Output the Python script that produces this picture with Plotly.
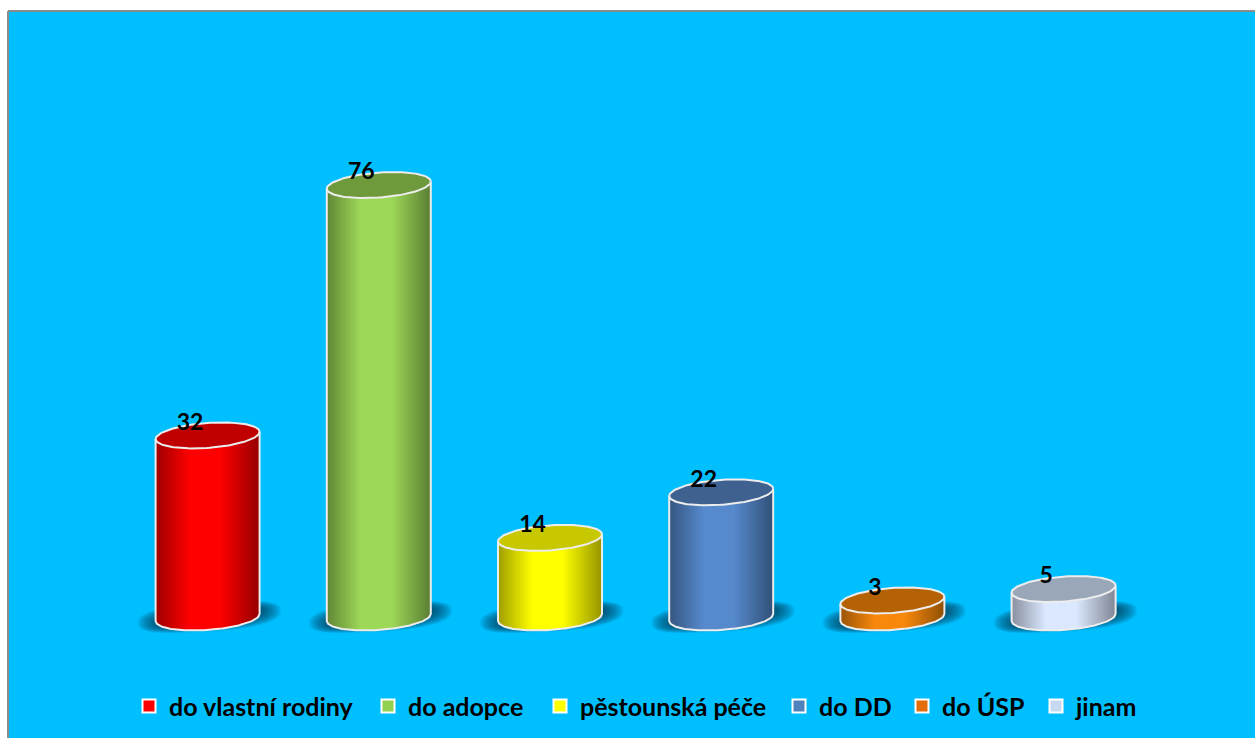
import numpy as np
import plotly.graph_objects as go

categories = ["do vlastní rodiny", "do adopce", "pěstounská péče", "do DD", "do ÚSP", "jinam"]
values = [32, 76, 14, 22, 3, 5]
side_colors = [(255, 0, 0), (157, 217, 88), (255, 255, 0), (86, 138, 205), (247, 136, 12), (219, 232, 255)]
top_colors = ["#C00000", "#6E9A3C", "#C8C800", "#3F6190", "#B56205", "#9AA7B8"]
legend_colors = ["#FF0000", "#92D050", "#FFFF00", "#4F81BD", "#E46C0A", "#C6D9F1"]
legend_left_px = [129, 368, 540, 779, 902, 1036]

W, H = 1255, 738
L, T = 8, 11
BG = "#00BFFF"
PX_PER_CAT = 171.2
PX_PER_VAL = 5.69
X0_PX, Y0_PX = 207.6, 617.5
HALF_W = 52 / PX_PER_CAT
RY = 12.5 / PX_PER_VAL
TILT = 3.6 / PX_PER_VAL


def shade(c, f):
    return "rgb(%d,%d,%d)" % tuple(int(round(v * f)) for v in c)


def grad(u):
    p = (u + 1) / 2
    if p < 0.33:
        return 0.62 + 0.38 * (p / 0.33)
    if p < 0.62:
        return 1.0
    return 1.0 - 0.42 * ((p - 0.62) / 0.38)


def ell(cx, cy, u):
    """front (lower) half of the tilted ellipse for u in -1..1"""
    return cx + HALF_W * u, cy - RY * np.sqrt(np.clip(1 - u * u, 0, 1)) + TILT * u


fig = go.Figure()
OUT = "#EDEDED"

# soft shadows
for i, v in enumerate(values):
    for s in np.linspace(1.0, 0.0, 14):
        t = np.linspace(0, 2 * np.pi, 80)
        rx = HALF_W * (0.95 + 0.43 * s)
        ry = RY * (0.55 + 0.62 * s)
        ct, st = np.cos(t), np.sin(t)
        sx = i + 0.01 + rx * np.sign(ct) * np.abs(ct) ** 0.75
        sy = 0.1 + ry * np.sign(st) * np.abs(st) ** 0.75 + 1.7 * TILT * ct
        fig.add_trace(go.Scatter(x=sx, y=sy, mode="lines", fill="toself",
                                 fillcolor="rgba(0,45,75,0.085)", line=dict(width=0),
                                 hoverinfo="skip", showlegend=False))

# cylinders: strips are painted left to right, each one reaching the right edge
N = 52
edges = np.linspace(-1, 1, N + 1)
for i, v in enumerate(values):
    for a, b in zip(edges[:-1], edges[1:]):
        us = np.linspace(a, 1, 60)
        bx, by = ell(i, 0, us)
        tx, ty = ell(i, v, us[::-1])
        col = shade(side_colors[i], grad((a + b) / 2))
        fig.add_trace(go.Scatter(x=np.r_[bx, tx, bx[0]], y=np.r_[by, ty, by[0]], mode="lines",
                                 fill="toself", fillcolor=col, line=dict(width=0),
                                 hoverinfo="skip", showlegend=False))
    # top ellipse
    t = np.linspace(0, 2 * np.pi, 120)
    ex = i + HALF_W * np.cos(t)
    ey = v + RY * np.sin(t) + TILT * np.cos(t)
    fig.add_trace(go.Scatter(x=ex, y=ey, mode="lines", fill="toself", fillcolor=top_colors[i],
                             line=dict(width=2, color=OUT), hoverinfo="skip", showlegend=False))
    # silhouette
    us = np.linspace(-1, 1, 80)
    bx, by = ell(i, 0, us)
    ox = np.r_[i - HALF_W, bx, i + HALF_W]
    oy = np.r_[v - TILT, by, v + TILT]
    fig.add_trace(go.Scatter(x=ox, y=oy, mode="lines", line=dict(width=2, color=OUT),
                             hoverinfo="skip", showlegend=False))

# data labels
fig.add_trace(go.Scatter(x=[i - 17.5 / PX_PER_CAT for i in range(len(values))],
                         y=[v + 2.0 for v in values],
                         mode="text", text=[str(v) for v in values],
                         textposition="middle center",
                         textfont=dict(family="Lato", size=23, color="black", weight=700),
                         hoverinfo="skip", showlegend=False))

# legend entries: one legend per entry so each sits at its own spot
legends = {}
for k, (name, c, left) in enumerate(zip(categories, legend_colors, legend_left_px)):
    key = "legend" if k == 0 else f"legend{k + 1}"
    fig.add_trace(go.Scatter(x=[None], y=[None], mode="markers", name=name, legend=key, showlegend=True,
                             marker=dict(symbol="square", size=13, color=c,
                                         line=dict(width=2, color="white"))))
    legends[key] = dict(x=(left - L) / (W - L), xanchor="left", xref="paper", y=0.012, yanchor="bottom",
                        yref="paper", bgcolor="rgba(0,0,0,0)", orientation="h",
                        font=dict(family="Lato", size=25, color="black", weight=700))

xr = [(L - X0_PX) / PX_PER_CAT, (W - X0_PX) / PX_PER_CAT]
yr = [(Y0_PX - H) / PX_PER_VAL, (Y0_PX - T) / PX_PER_VAL]
fig.update_layout(
    width=W, height=H, autosize=False,
    margin=dict(l=L, r=0, t=T, b=0, pad=0),
    paper_bgcolor="white", plot_bgcolor=BG,
    xaxis=dict(range=xr, visible=False, fixedrange=True),
    yaxis=dict(range=yr, visible=False, fixedrange=True),
    showlegend=True,
    shapes=[dict(type="line", xref="paper", yref="paper", x0=0, x1=1, y0=1, y1=1,
                 line=dict(color="#8C8C8C", width=2)),
            dict(type="line", xref="paper", yref="paper", x0=0, x1=0, y0=0, y1=1,
                 line=dict(color="#8C8C8C", width=2))],
    **legends,
)
fig.write_html("out.html", config={"displayModeBar": False},
               post_script="document.body.style.margin='0';document.documentElement.style.overflow='hidden';")
